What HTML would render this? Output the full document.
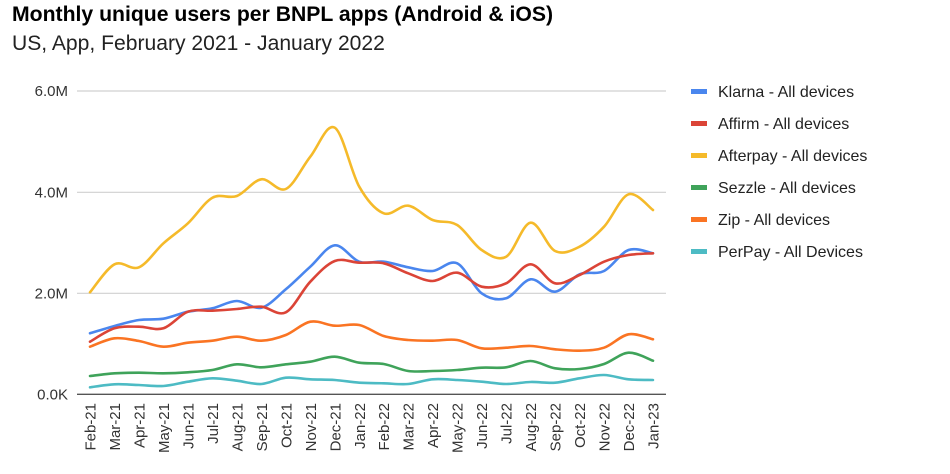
<!DOCTYPE html>
<html>
<head>
<meta charset="utf-8">
<style>
html,body{margin:0;padding:0;background:#fff;}
body{width:950px;height:474px;overflow:hidden;font-family:"Liberation Sans",Arial,sans-serif;}
svg{display:block;}
</style>
</head>
<body>
<svg id="c" width="950" height="474" viewBox="0 0 950 474" xmlns="http://www.w3.org/2000/svg" font-family="Liberation Sans, Arial, sans-serif">
  <text x="12" y="21" font-size="21.2" font-weight="bold" fill="#000">Monthly unique users per BNPL apps (Android &amp; iOS)</text>
  <text x="12" y="50" font-size="21.1" fill="#222">US, App, February 2021 - January 2022</text>

  <g stroke="#d0d0d0" stroke-width="1.2">
    <line x1="77" y1="91" x2="666" y2="91"/>
    <line x1="77" y1="192.3" x2="666" y2="192.3"/>
    <line x1="77" y1="293.3" x2="666" y2="293.3"/>
  </g>
  <g font-size="15" fill="#333" text-anchor="end">
    <text x="68" y="96">6.0M</text>
    <text x="68" y="197.3">4.0M</text>
    <text x="68" y="298.3">2.0M</text>
    <text x="68" y="399.5">0.0K</text>
  </g>

  <g id="series" fill="none" stroke-width="2.6" stroke-linejoin="round" stroke-linecap="round"></g>

  <line x1="77" y1="394.3" x2="666" y2="394.3" stroke="#555" stroke-width="1.3"/>

  <g id="xl" font-size="15" fill="#333" text-anchor="end"></g>

  <g font-size="16" fill="#222">
    <rect x="691" y="89" width="16" height="5" fill="#4A86EE"/>
    <text x="718" y="97">Klarna - All devices</text>
    <rect x="691" y="121" width="16" height="5" fill="#DB4437"/>
    <text x="718" y="129">Affirm - All devices</text>
    <rect x="691" y="153" width="16" height="5" fill="#F5BA2A"/>
    <text x="718" y="161">Afterpay - All devices</text>
    <rect x="691" y="185" width="16" height="5" fill="#3FA35A"/>
    <text x="718" y="193">Sezzle - All devices</text>
    <rect x="691" y="217" width="16" height="5" fill="#FA7423"/>
    <text x="718" y="225">Zip - All devices</text>
    <rect x="691" y="249" width="16" height="5" fill="#4DBBC4"/>
    <text x="718" y="257">PerPay - All Devices</text>
  </g>
</svg>
<script>
(function(){
  var NS="http://www.w3.org/2000/svg";
  var x0=90, dx=24.478;
  var labels=["Feb-21","Mar-21","Apr-21","May-21","Jun-21","Jul-21","Aug-21","Sep-21","Oct-21","Nov-21","Dec-21","Jan-22","Feb-22","Mar-22","Apr-22","May-22","Jun-22","Jul-22","Aug-22","Sep-22","Oct-22","Nov-22","Dec-22","Jan-23"];
  var series=[
    ["#4A86EE",[333.3,326,320,318.7,311.7,308.3,301,307.7,289.3,266.7,245.3,261.7,261.7,267.3,271,263.3,293.3,298.3,279.3,291.7,274.3,271,250,253.3]],
    ["#DB4437",[341.7,328.3,326.7,328.3,311.7,310.7,309,306.7,312.3,281.7,261,262.7,263.3,273.3,281,272.7,286.7,283.3,264.3,283.3,275,261.7,255,253.3]],
    ["#F5BA2A",[292.3,264.3,267.3,243.3,223.3,197.7,196,179.3,189,156.7,127.7,186.7,213.3,205.7,220,225,250,256.7,222.7,251,246.7,226.7,194.3,210]],
    ["#3FA35A",[376,373.3,372.7,373.3,372.3,370,364.3,367.3,364.3,361.7,356.7,362.7,364,371,371,370,367.7,367.3,361,368.3,369,364,352.7,360.7]],
    ["#FA7423",[346.7,338.3,341,346.7,342.7,340.7,336.7,340.7,335,321.7,325.7,325,336,340,340.7,340,348.3,347.7,346,349.3,350.7,347.7,334.3,339.3]],
    ["#4DBBC4",[387.3,384.3,385,386,381.7,378.3,380.7,384,377.7,379.3,380,382.7,383.3,384,379.3,380,381.7,384,382,382.7,378.3,375,379.3,380]]
  ];
  var g=document.getElementById("series");
  series.forEach(function(s){
    var ys=s[1], n=ys.length, pts=[];
    for(var i=0;i<n;i++) pts.push([x0+dx*i, ys[i]]);
    var d="M"+pts[0][0].toFixed(2)+","+pts[0][1].toFixed(2);
    for(var i=0;i<n-1;i++){
      var p0=pts[i>0?i-1:i], p1=pts[i], p2=pts[i+1], p3=pts[i+2<n?i+2:i+1];
      var t=1/6;
      var c1x=p1[0]+(p2[0]-p0[0])*t, c1y=p1[1]+(p2[1]-p0[1])*t;
      var c2x=p2[0]-(p3[0]-p1[0])*t, c2y=p2[1]-(p3[1]-p1[1])*t;
      d+=" C"+c1x.toFixed(2)+","+c1y.toFixed(2)+" "+c2x.toFixed(2)+","+c2y.toFixed(2)+" "+p2[0].toFixed(2)+","+p2[1].toFixed(2);
    }
    var p=document.createElementNS(NS,"path");
    p.setAttribute("d",d);
    p.setAttribute("stroke",s[0]);
    g.appendChild(p);
  });
  var xl=document.getElementById("xl");
  labels.forEach(function(l,i){
    var x=x0+dx*i+5.5, y=403;
    var t=document.createElementNS(NS,"text");
    t.setAttribute("x",x.toFixed(2));
    t.setAttribute("y",y);
    t.setAttribute("transform","rotate(-90 "+x.toFixed(2)+" "+y+")");
    t.textContent=l;
    xl.appendChild(t);
  });
})();
</script>
</body>
</html>
